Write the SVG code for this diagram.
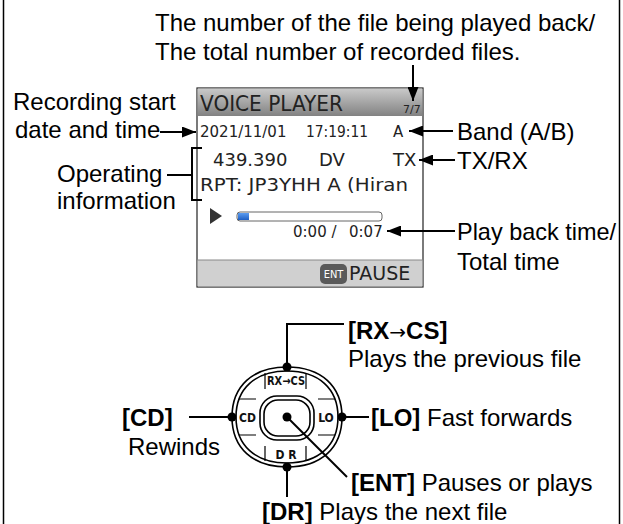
<svg xmlns="http://www.w3.org/2000/svg" width="623" height="524" viewBox="0 0 623 524">
<style>
.lbl{font-family:"Liberation Sans",Arial,sans-serif;font-size:24px;fill:#000}
.b{font-weight:bold}
.arr{font-family:"DejaVu Sans",sans-serif;font-weight:normal;font-size:20px}
.scr{font-family:"DejaVu Sans",Verdana,sans-serif;fill:#222}
.key{font-family:"DejaVu Sans Condensed","DejaVu Sans",sans-serif;font-weight:bold;font-size:12px;fill:#111}
.ln{stroke:#000;stroke-width:2;fill:none}
.thin{stroke:#000;stroke-width:1.6;fill:none}
.dot{fill:#000}
</style>
<defs>
<marker id="ah" markerUnits="userSpaceOnUse" markerWidth="14" markerHeight="11" refX="14" refY="5.5" orient="auto">
<path d="M0,0 L14,5.5 L0,11 z" fill="#000"/>
</marker>
<linearGradient id="tbar" x1="0" y1="0" x2="0" y2="1">
<stop offset="0" stop-color="#c9c9c9"/>
<stop offset="1" stop-color="#828282"/>
</linearGradient>
<linearGradient id="blue" x1="0" y1="0" x2="0" y2="1">
<stop offset="0" stop-color="#5b9cf0"/>
<stop offset="1" stop-color="#1e5fc4"/>
</linearGradient>
</defs>

<rect x="3.5" y="-5" width="616" height="540" fill="none" stroke="#000" stroke-width="1.5"/>

<g id="screen">
<rect x="197" y="88" width="226" height="199" fill="#fff" stroke="#222" stroke-width="1.2"/>
<rect x="197.6" y="88.6" width="224.8" height="27.4" fill="url(#tbar)"/>
<text class="scr" x="200" y="111" font-size="21" textLength="143" lengthAdjust="spacingAndGlyphs">VOICE PLAYER</text>
<text class="scr" x="403" y="113" font-size="11" fill="#333">7/7</text>
<text class="scr" x="200" y="137" font-size="15">2021/11/01</text>
<text class="scr" x="306" y="137" font-size="15" textLength="62" lengthAdjust="spacingAndGlyphs">17:19:11</text>
<text class="scr" x="393" y="137" font-size="15">A</text>
<text class="scr" x="213" y="166" font-size="18">439.390</text>
<text class="scr" x="319" y="166" font-size="18">DV</text>
<text class="scr" x="393" y="166" font-size="18">TX</text>
<text class="scr" x="200" y="191" font-size="18" textLength="208" lengthAdjust="spacingAndGlyphs">RPT: JP3YHH A (Hiran</text>
<path d="M210,208 L222,216 L210,224 z" fill="#333"/>
<rect x="237" y="212" width="145" height="9" rx="3" fill="#fff" stroke="#666" stroke-width="1"/>
<rect x="238" y="213" width="11" height="7" fill="url(#blue)"/>
<text class="scr" x="293" y="237" font-size="15">0:00 /</text>
<text class="scr" x="349" y="237" font-size="15">0:07</text>
<rect x="197.6" y="260" width="224.8" height="26.4" fill="#d0d0d0"/>
<line x1="197" y1="260" x2="423" y2="260" stroke="#888" stroke-width="1"/>
<rect x="320" y="264" width="27" height="20" rx="5" fill="#5a5a5a"/>
<text x="333.5" y="278" font-family="DejaVu Sans Condensed, DejaVu Sans, sans-serif" font-size="11" fill="#fff" text-anchor="middle">ENT</text>
<text class="scr" x="349" y="280" font-size="19" fill="#4a4a4a">PAUSE</text>
</g>

<g id="label-file-number">
<text class="lbl" x="155" y="31">The number of the file being played back/</text>
<text class="lbl" x="155" y="60">The total number of recorded files.</text>
</g>
<g id="label-recording">
<text class="lbl" x="13" y="110">Recording start</text>
<text class="lbl" x="15" y="138">date and time</text>
</g>
<g id="label-operating">
<text class="lbl" x="57" y="182">Operating</text>
<text class="lbl" x="57" y="209">information</text>
</g>
<g id="label-band"><text class="lbl" x="457" y="140">Band (A/B)</text></g>
<g id="label-txrx"><text class="lbl" x="457" y="169">TX/RX</text></g>
<g id="label-time">
<text class="lbl" x="457" y="240" textLength="159" lengthAdjust="spacingAndGlyphs">Play back time/</text>
<text class="lbl" x="457" y="270">Total time</text>
</g>

<g id="dial">
<path class="thin" d="M287,367 C321.1,367 342,386 342,417 C342,448 321.1,467 287,467 C252.9,467 232,448 232,417 C232,386 252.9,367 287,367 Z"/>
<path class="thin" d="M287,371 C318.6,371 338,388.5 338,417 C338,445.5 318.6,463 287,463 C255.4,463 236,445.5 236,417 C236,388.5 255.4,371 287,371 Z"/>
<rect x="260" y="396" width="54" height="44" rx="17" class="thin"/>
<rect x="264" y="400" width="46" height="36" rx="14" class="thin"/>
<path d="M239,399 H256 M239,435 H256 M318,399 H335 M318,435 H335 M265,373 V389 M306,373 V389 M265,446 V461 M306,446 V461" stroke="#000" stroke-width="1.2" fill="none"/>
<text class="key" x="286" y="385" text-anchor="middle" textLength="38" lengthAdjust="spacingAndGlyphs">RX→CS</text>
<text class="key" x="247.5" y="421.5" text-anchor="middle">CD</text>
<text class="key" x="326" y="421.5" text-anchor="middle">LO</text>
<text class="key" x="286" y="459" text-anchor="middle">D R</text>
</g>

<g id="label-rxcs">
<text class="lbl b" x="348" y="339">[RX<tspan class="arr">→</tspan>CS]</text>
<text class="lbl" x="348" y="367">Plays the previous file</text>
</g>
<g id="label-cd">
<text class="lbl b" x="122" y="426">[CD]</text>
<text class="lbl" x="128" y="455">Rewinds</text>
</g>
<g id="label-lo">
<text class="lbl" x="371" y="426"><tspan class="b">[LO]</tspan> Fast forwards</text>
</g>
<g id="label-ent">
<text class="lbl" x="351" y="491"><tspan class="b">[ENT]</tspan> Pauses or plays</text>
</g>
<g id="label-dr">
<text class="lbl" x="262" y="520"><tspan class="b">[DR]</tspan> Plays the next file</text>
</g>

<g id="connectors">
<line x1="413" y1="65" x2="413" y2="101" class="ln" marker-end="url(#ah)"/>
<line x1="160" y1="132" x2="196" y2="132" class="ln" marker-end="url(#ah)"/>
<line x1="453" y1="131" x2="409" y2="131" class="ln" marker-end="url(#ah)"/>
<line x1="455" y1="160" x2="419" y2="160" class="ln" marker-end="url(#ah)"/>
<line x1="455" y1="231" x2="387" y2="231" class="ln" marker-end="url(#ah)"/>
<path d="M167,175 H192 M202,148 H192 V200 H202" class="ln"/>
<path d="M344,324 H287 V367" class="ln"/>
<line x1="189" y1="417" x2="232" y2="417" class="ln"/>
<line x1="342" y1="417" x2="369" y2="417" class="ln"/>
<line x1="287" y1="417" x2="347" y2="477" class="ln"/>
<line x1="287" y1="467" x2="287" y2="497" class="ln"/>
<circle cx="287" cy="367" r="4.5" class="dot"/>
<circle cx="232" cy="417" r="4.5" class="dot"/>
<circle cx="342" cy="417" r="4.5" class="dot"/>
<circle cx="287" cy="467" r="4.5" class="dot"/>
<circle cx="287" cy="417" r="4.5" class="dot"/>
</g>
</svg>
